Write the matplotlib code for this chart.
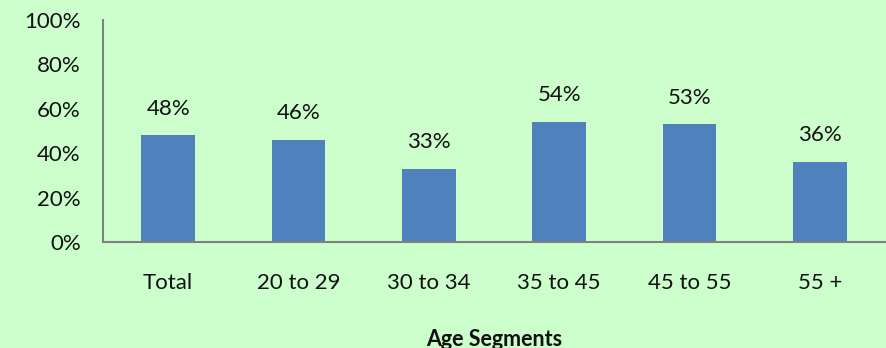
import matplotlib
matplotlib.use("Agg")
import matplotlib.pyplot as plt
from matplotlib.ticker import FuncFormatter

categories = ["Total", "20 to 29", "30 to 34", "35 to 45", "45 to 55", "55 +"]
values = [0.48, 0.46, 0.33, 0.54, 0.53, 0.36]
y_ticks = [0.0, 0.2, 0.4, 0.6, 0.8, 1.0]
x_title = "Age Segments"

bg = "#CCFFCC"
bar_color = "#4F81BD"
axis_color = "#808080"

plt.rcParams["font.family"] = ["Lato", "DejaVu Sans"]

fig = plt.figure(figsize=(8.86, 3.48), dpi=100, facecolor=bg)
ax = fig.add_axes([103 / 886, 1 - 242 / 348, 782 / 886, 222 / 348])
ax.set_facecolor(bg)

x = list(range(len(categories)))
ax.bar(x, values, width=0.41, color=bar_color, zorder=2)

for xi, v in zip(x, values):
    ax.annotate(f"{round(v * 100)}%", (xi, v), xytext=(0, 12), textcoords="offset points",
                ha="center", va="bottom", fontsize=16, color="#111111")

ax.set_xlim(-0.5, len(categories) - 0.5)
ax.set_ylim(0, 1.0)
ax.set_yticks(y_ticks)
ax.yaxis.set_major_formatter(FuncFormatter(lambda v, _: f"{v * 100:.0f}%"))
ax.set_xticks(x)
ax.set_xticklabels(categories)

for s in ["top", "right"]:
    ax.spines[s].set_visible(False)
for s in ["left", "bottom"]:
    ax.spines[s].set_color(axis_color)
    ax.spines[s].set_linewidth(1.5)

ax.tick_params(axis="y", length=0, pad=16, labelsize=16, colors="#111111")
ax.tick_params(axis="x", length=0, pad=22, labelsize=16, colors="#111111")

ax.set_xlabel(x_title, fontsize=15.5, fontweight="bold", labelpad=26, color="#111111")

fig.savefig("out.png", dpi=100, facecolor=bg)
